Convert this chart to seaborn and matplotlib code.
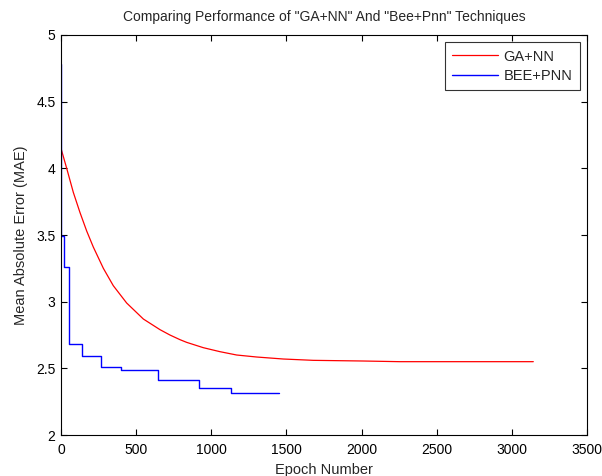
import pandas as pd
import seaborn as sns
import matplotlib.pyplot as plt

sns.set_style("white")
plt.rcParams['font.family'] = ['Liberation Sans', 'DejaVu Sans']

# GA+NN curve
ga_epoch = [0, 38, 82, 126, 171, 215, 282, 348, 437, 548, 659, 725, 792, 836,
            947, 1058, 1169, 1302, 1479, 1679, 2012, 2255, 2700, 3143]
ga_mae = [4.15, 4.00, 3.82, 3.67, 3.53, 3.41, 3.25, 3.12, 2.99, 2.87, 2.79, 2.75, 2.715, 2.695,
          2.655, 2.625, 2.60, 2.585, 2.57, 2.56, 2.555, 2.55, 2.55, 2.55]

# BEE+PNN step curve
bee_epoch = [0, 1, 20, 53, 138, 266, 397, 648, 916, 1129, 1453]
bee_mae = [4.78, 3.49, 3.26, 2.68, 2.59, 2.51, 2.49, 2.41, 2.35, 2.315, 2.315]

ga = pd.DataFrame({'Epoch': ga_epoch, 'MAE': ga_mae})
bee = pd.DataFrame({'Epoch': bee_epoch, 'MAE': bee_mae})

fig = plt.figure(figsize=(6.02, 4.76), dpi=100)
ax = fig.add_axes([0.1013, 0.0861, 0.8737, 0.8404])

sns.lineplot(data=ga, x='Epoch', y='MAE', color='#ff0000', lw=0.9, label='GA+NN', ax=ax)
sns.lineplot(data=bee, x='Epoch', y='MAE', color='#0000ff', lw=1.0, drawstyle='steps-post',
             label='BEE+PNN', ax=ax)

ax.set_xlim(0, 3500)
ax.set_ylim(2, 5)
ax.set_xticks(range(0, 3501, 500))
ax.set_yticks([2, 2.5, 3, 3.5, 4, 4.5, 5])
ax.set_yticklabels(['2', '2.5', '3', '3.5', '4', '4.5', '5'])
ax.tick_params(direction='in', length=4, width=0.8, labelsize=10, top=True, right=True,
               bottom=True, left=True, colors='black')
ax.tick_params(axis='x', pad=6)
ax.tick_params(axis='y', pad=4)
for s in ax.spines.values():
    s.set_color('black')
    s.set_linewidth(0.8)

ax.set_xlabel('Epoch Number', fontsize=10.5, labelpad=4)
ax.set_ylabel('Mean Absolute Error (MAE)', fontsize=10.5, labelpad=6)
ax.set_title('Comparing Performance of "GA+NN" And "Bee+Pnn" Techniques', fontsize=10, pad=10)

leg = ax.legend(loc='upper right', fontsize=10.5, frameon=True, fancybox=False,
                edgecolor='black', handlelength=3.1, handletextpad=0.4,
                borderaxespad=0.5, borderpad=0.5, labelspacing=0.35)
leg.get_frame().set_linewidth(0.8)

fig.savefig('out.png', dpi=100)
